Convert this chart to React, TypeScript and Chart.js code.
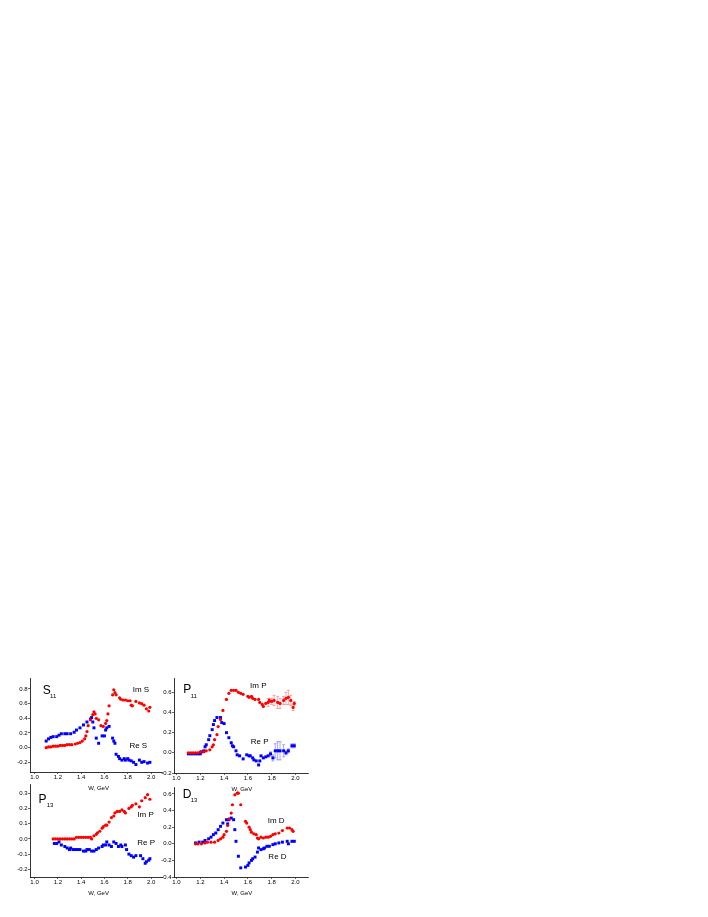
import { useEffect, useRef } from 'react';
import { Chart, registerables } from 'chart.js';

Chart.register(...registerables);

const FONT = '"Liberation Sans", Arial, sans-serif';
Chart.defaults.font.family = FONT;

// shared x ticks (W, GeV)
const wTicks = [1.0, 1.2, 1.4, 1.6, 1.8, 2.0];

// y ticks per panel
const s11Ticks = [-0.2, 0.0, 0.2, 0.4, 0.6, 0.8];
const p11Ticks = [-0.2, 0.0, 0.2, 0.4, 0.6];
const p13Ticks = [-0.2, -0.1, 0.0, 0.1, 0.2, 0.3];
const d13Ticks = [-0.4, -0.2, 0.0, 0.2, 0.4, 0.6];

// S11
const s11ImW = [1.10, 1.12, 1.14, 1.16, 1.18, 1.20, 1.22, 1.24, 1.26, 1.28, 1.30, 1.32, 1.35, 1.37, 1.39, 1.41, 1.43, 1.44, 1.45, 1.46, 1.48, 1.50, 1.51, 1.52, 1.53, 1.55, 1.57, 1.59, 1.61, 1.62, 1.63, 1.64, 1.67, 1.68, 1.69, 1.70, 1.73, 1.74, 1.76, 1.78, 1.80, 1.82, 1.83, 1.84, 1.87, 1.90, 1.92, 1.94, 1.96, 1.98, 1.99];
const s11Im = [0.00, 0.01, 0.01, 0.02, 0.02, 0.02, 0.03, 0.03, 0.03, 0.04, 0.04, 0.04, 0.05, 0.06, 0.07, 0.09, 0.12, 0.16, 0.22, 0.30, 0.38, 0.45, 0.49, 0.46, 0.40, 0.38, 0.30, 0.29, 0.33, 0.37, 0.46, 0.57, 0.72, 0.79, 0.75, 0.72, 0.68, 0.66, 0.65, 0.65, 0.64, 0.64, 0.58, 0.57, 0.63, 0.61, 0.60, 0.58, 0.53, 0.50, 0.55];
const s11ReW = [1.10, 1.12, 1.14, 1.16, 1.19, 1.21, 1.23, 1.26, 1.28, 1.31, 1.34, 1.36, 1.39, 1.42, 1.45, 1.48, 1.49, 1.50, 1.51, 1.53, 1.55, 1.58, 1.60, 1.61, 1.62, 1.64, 1.67, 1.68, 1.69, 1.70, 1.72, 1.73, 1.75, 1.77, 1.78, 1.80, 1.81, 1.83, 1.85, 1.87, 1.90, 1.92, 1.94, 1.97, 1.99];
const s11Re = [0.09, 0.12, 0.14, 0.15, 0.15, 0.17, 0.19, 0.19, 0.19, 0.19, 0.21, 0.24, 0.27, 0.31, 0.35, 0.39, 0.41, 0.35, 0.27, 0.13, 0.06, 0.16, 0.16, 0.24, 0.27, 0.29, 0.13, 0.09, 0.06, -0.09, -0.12, -0.15, -0.17, -0.15, -0.17, -0.15, -0.17, -0.18, -0.20, -0.23, -0.17, -0.20, -0.19, -0.21, -0.20];

// P11
const p11ImW = [1.10, 1.12, 1.14, 1.16, 1.18, 1.20, 1.23, 1.25, 1.28, 1.30, 1.31, 1.32, 1.34, 1.35, 1.37, 1.39, 1.42, 1.44, 1.46, 1.48, 1.50, 1.52, 1.54, 1.56, 1.60, 1.61, 1.63, 1.64, 1.66, 1.69, 1.70, 1.72, 1.73, 1.75, 1.77, 1.78, 1.80, 1.82, 1.85, 1.87, 1.90, 1.92, 1.94, 1.96, 1.98, 1.99];
const p11Im = [0.00, 0.00, 0.00, 0.00, 0.00, 0.01, 0.01, 0.02, 0.03, 0.06, 0.08, 0.13, 0.18, 0.26, 0.33, 0.42, 0.53, 0.59, 0.62, 0.62, 0.62, 0.60, 0.59, 0.58, 0.56, 0.55, 0.56, 0.54, 0.53, 0.53, 0.50, 0.48, 0.46, 0.49, 0.50, 0.52, 0.51, 0.52, 0.50, 0.49, 0.52, 0.54, 0.55, 0.52, 0.45, 0.49];
const p11ImErr = [0, 0, 0, 0, 0, 0, 0, 0, 0, 0, 0, 0, 0, 0, 0, 0, 0, 0, 0, 0, 0, 0, 0, 0, 0, 0, 0, 0, 0, 0, 0, 0, 0, 0, 0.04, 0.02, 0.03, 0.05, 0.06, 0.05, 0.04, 0.06, 0.07, 0.05, 0.03, 0.02];
const p11ReW = [1.10, 1.12, 1.14, 1.16, 1.18, 1.20, 1.21, 1.23, 1.24, 1.25, 1.27, 1.28, 1.30, 1.31, 1.32, 1.34, 1.37, 1.38, 1.40, 1.42, 1.44, 1.46, 1.47, 1.48, 1.50, 1.51, 1.53, 1.56, 1.59, 1.61, 1.62, 1.64, 1.65, 1.67, 1.69, 1.70, 1.71, 1.73, 1.75, 1.77, 1.79, 1.81, 1.83, 1.85, 1.87, 1.90, 1.92, 1.94, 1.97, 1.99];
const p11Re = [-0.01, -0.01, -0.01, -0.01, -0.01, -0.01, 0.01, 0.02, 0.06, 0.08, 0.13, 0.17, 0.23, 0.28, 0.32, 0.35, 0.35, 0.30, 0.29, 0.20, 0.15, 0.10, 0.07, 0.06, 0.02, -0.02, -0.03, -0.06, -0.02, -0.03, -0.03, -0.05, -0.07, -0.08, -0.12, -0.08, -0.03, -0.05, -0.04, -0.03, -0.01, -0.05, 0.02, 0.02, 0.02, 0.02, 0.00, 0.02, 0.07, 0.07];
const p11ReErr = [0, 0, 0, 0, 0, 0, 0, 0, 0, 0, 0, 0, 0, 0, 0, 0, 0, 0, 0, 0, 0, 0, 0, 0, 0, 0, 0, 0, 0, 0, 0, 0, 0, 0, 0, 0, 0, 0, 0, 0, 0.02, 0.03, 0.07, 0.09, 0.09, 0.06, 0.02, 0.02, 0.02, 0.02];

// P13
const p13ImW = [1.16, 1.18, 1.20, 1.22, 1.24, 1.26, 1.28, 1.30, 1.32, 1.34, 1.36, 1.38, 1.40, 1.42, 1.44, 1.46, 1.48, 1.49, 1.51, 1.53, 1.54, 1.56, 1.58, 1.59, 1.61, 1.62, 1.64, 1.66, 1.68, 1.69, 1.71, 1.73, 1.75, 1.77, 1.78, 1.81, 1.83, 1.84, 1.87, 1.90, 1.92, 1.95, 1.97, 1.99];
const p13Im = [0.00, 0.00, 0.00, 0.00, 0.00, 0.00, 0.00, 0.00, 0.00, 0.00, 0.01, 0.01, 0.01, 0.01, 0.01, 0.01, 0.01, 0.00, 0.02, 0.03, 0.04, 0.05, 0.07, 0.08, 0.09, 0.09, 0.11, 0.14, 0.15, 0.17, 0.18, 0.18, 0.19, 0.18, 0.17, 0.20, 0.21, 0.22, 0.23, 0.21, 0.25, 0.27, 0.29, 0.26];
const p13ReW = [1.17, 1.19, 1.21, 1.23, 1.26, 1.28, 1.30, 1.31, 1.33, 1.35, 1.37, 1.39, 1.42, 1.44, 1.45, 1.47, 1.49, 1.51, 1.53, 1.55, 1.58, 1.59, 1.61, 1.62, 1.64, 1.66, 1.68, 1.70, 1.72, 1.74, 1.75, 1.78, 1.79, 1.81, 1.83, 1.85, 1.87, 1.91, 1.93, 1.95, 1.96, 1.98, 1.99];
const p13Re = [-0.03, -0.03, -0.02, -0.04, -0.05, -0.06, -0.07, -0.06, -0.07, -0.07, -0.07, -0.07, -0.08, -0.08, -0.07, -0.07, -0.08, -0.08, -0.07, -0.06, -0.05, -0.04, -0.04, -0.02, -0.04, -0.05, -0.02, -0.03, -0.05, -0.04, -0.05, -0.04, -0.07, -0.10, -0.11, -0.12, -0.11, -0.11, -0.13, -0.16, -0.15, -0.14, -0.13];

// D13
const d13ImW = [1.16, 1.18, 1.21, 1.24, 1.26, 1.29, 1.32, 1.35, 1.37, 1.39, 1.40, 1.42, 1.43, 1.44, 1.46, 1.47, 1.49, 1.51, 1.52, 1.54, 1.58, 1.59, 1.61, 1.62, 1.63, 1.65, 1.67, 1.68, 1.69, 1.71, 1.73, 1.75, 1.77, 1.79, 1.81, 1.83, 1.86, 1.89, 1.93, 1.95, 1.97, 1.98];
const d13Im = [0.00, 0.00, 0.00, 0.01, 0.02, 0.02, 0.02, 0.04, 0.06, 0.08, 0.11, 0.15, 0.22, 0.30, 0.37, 0.47, 0.59, 0.61, 0.61, 0.47, 0.27, 0.25, 0.20, 0.17, 0.14, 0.12, 0.11, 0.07, 0.06, 0.08, 0.07, 0.08, 0.08, 0.09, 0.11, 0.12, 0.13, 0.16, 0.19, 0.19, 0.17, 0.15];
const d13ReW = [1.16, 1.19, 1.22, 1.24, 1.27, 1.29, 1.31, 1.33, 1.35, 1.37, 1.39, 1.42, 1.43, 1.44, 1.46, 1.48, 1.49, 1.50, 1.52, 1.54, 1.58, 1.60, 1.61, 1.63, 1.64, 1.66, 1.68, 1.69, 1.71, 1.73, 1.74, 1.76, 1.78, 1.81, 1.83, 1.86, 1.89, 1.93, 1.94, 1.97, 1.99];
const d13Re = [0.01, 0.02, 0.02, 0.04, 0.06, 0.08, 0.11, 0.13, 0.17, 0.21, 0.25, 0.29, 0.24, 0.29, 0.31, 0.29, 0.17, 0.03, -0.15, -0.29, -0.28, -0.26, -0.23, -0.20, -0.18, -0.16, -0.10, -0.05, -0.07, -0.06, -0.05, -0.03, -0.03, -0.01, 0.00, 0.01, 0.02, 0.03, 0.00, 0.03, 0.03];

interface Series { w: number[]; v: number[]; err?: number[] }
interface Note { text: string; x: number; y: number; size: number }
interface PanelProps {
  box: number[];   // canvas left, top, width, height (page px)
  area: number[];  // plot area left, top, right, bottom (page px)
  xRange: number[];
  yRange: number[];
  yTicks: number[];
  im: Series;
  re: Series;
  notes: Note[];
}

const RED = '#ff0000';
const BLUE = '#0000ff';

const errorBars = {
  id: 'errorBars',
  beforeDatasetsDraw(chart: any) {
    const { ctx } = chart;
    const xs = chart.scales.x;
    const ys = chart.scales.y;
    chart.data.datasets.forEach((ds: any) => {
      if (!ds.errors) return;
      ctx.save();
      ctx.strokeStyle = ds.errorColor;
      ctx.lineWidth = 0.7;
      ds.data.forEach((pt: any, i: number) => {
        const e = ds.errors[i];
        if (!e) return;
        const px = xs.getPixelForValue(pt.x);
        const top = ys.getPixelForValue(pt.y + e);
        const bot = ys.getPixelForValue(pt.y - e);
        ctx.beginPath();
        ctx.moveTo(px, top);
        ctx.lineTo(px, bot);
        ctx.moveTo(px - 1.5, top);
        ctx.lineTo(px + 1.5, top);
        ctx.moveTo(px - 1.5, bot);
        ctx.lineTo(px + 1.5, bot);
        ctx.stroke();
      });
      ctx.restore();
    });
  },
};

function Panel({ box, area, xRange, yRange, yTicks, im, re, notes }: PanelProps) {
  const canvasRef = useRef<HTMLCanvasElement>(null);

  useEffect(() => {
    if (!canvasRef.current) return;
    const [cl, ct, cw, ch] = box;
    const [al, at, ar, ab] = area;

    const textPlugin = {
      id: 'panelText',
      afterDatasetsDraw(chart: any) {
        const { ctx, chartArea } = chart;
        const xs = chart.scales.x;
        const ys = chart.scales.y;
        ctx.save();
        ctx.fillStyle = '#000';
        ctx.textBaseline = 'middle';
        ctx.textAlign = 'left';
        notes.forEach(n => {
          ctx.font = `${n.size}px ${FONT}`;
          ctx.fillText(n.text, xs.getPixelForValue(n.x), ys.getPixelForValue(n.y));
        });
        ctx.textAlign = 'center';
        ctx.font = `6px ${FONT}`;
        ctx.fillText('W, GeV', xs.getPixelForValue(1.55), chartArea.bottom + 16);
        ctx.restore();
      },
    };

    const axisGrid = { drawOnChartArea: false, drawTicks: true, tickLength: 2, color: '#000', lineWidth: 0.6 };
    const axisBorder = { color: '#000', width: 0.8 };
    const tickFont = { size: 6, family: FONT };

    const chart = new Chart(canvasRef.current, {
      type: 'scatter',
      data: {
        datasets: [
          {
            data: im.w.map((w, i) => ({ x: w, y: im.v[i] })),
            pointStyle: 'circle',
            pointRadius: 1.6,
            pointBackgroundColor: RED,
            pointBorderWidth: 0,
            errors: im.err,
            errorColor: 'rgba(255, 90, 90, 0.75)',
          } as any,
          {
            data: re.w.map((w, i) => ({ x: w, y: re.v[i] })),
            pointStyle: 'rect',
            pointRadius: 2.1,
            pointBackgroundColor: BLUE,
            pointBorderWidth: 0,
            errors: re.err,
            errorColor: 'rgba(90, 90, 255, 0.75)',
          } as any,
        ],
      },
      options: {
        animation: false,
        responsive: false,
        events: [],
        layout: { padding: { left: 0, top: at - ct, right: cl + cw - ar, bottom: 0 } },
        plugins: { legend: { display: false }, tooltip: { enabled: false } },
        scales: {
          x: {
            type: 'linear',
            min: xRange[0],
            max: xRange[1],
            afterFit: (s: any) => { s.height = ct + ch - ab; },
            afterBuildTicks: (s: any) => { s.ticks = wTicks.map(v => ({ value: v })); },
            grid: axisGrid,
            border: axisBorder,
            ticks: {
              font: tickFont,
              color: '#000',
              padding: 0,
              maxRotation: 0,
              autoSkip: false,
              callback: (v: any) => Number(v).toFixed(1),
            },
          },
          y: {
            type: 'linear',
            min: yRange[0],
            max: yRange[1],
            afterFit: (s: any) => { s.width = al - cl; },
            afterBuildTicks: (s: any) => { s.ticks = yTicks.map(v => ({ value: v })); },
            grid: axisGrid,
            border: axisBorder,
            ticks: {
              font: tickFont,
              color: '#000',
              padding: 0.5,
              autoSkip: false,
              callback: (v: any) => Number(v).toFixed(1),
            },
          },
        },
      },
      plugins: [errorBars, textPlugin],
    } as any);

    return () => chart.destroy();
  }, []);

  return (
    <canvas
      ref={canvasRef}
      width={box[2]}
      height={box[3]}
      style={{ position: 'absolute', left: box[0], top: box[1], width: box[2], height: box[3] }}
    />
  );
}

export default function App() {
  return (
    <div style={{ position: 'absolute', left: 0, top: 0, width: 708, height: 917, background: '#fff' }}>
      <Panel
        box={[0, 668, 170, 132]}
        area={[30, 678, 162, 772]}
        xRange={[0.961, 2.094]}
        yRange={[-0.332, 0.95]}
        yTicks={s11Ticks}
        im={{ w: s11ImW, v: s11Im }}
        re={{ w: s11ReW, v: s11Re }}
        notes={[
          { text: 'S', x: 1.07, y: 0.773, size: 12 },
          { text: '11', x: 1.133, y: 0.695, size: 6 },
          { text: 'Im S', x: 1.843, y: 0.793, size: 8 },
          { text: 'Re S', x: 1.814, y: 0.02, size: 8 },
        ]}
      />
      <Panel
        box={[156, 668, 157, 132]}
        area={[174, 678, 308, 773]}
        xRange={[0.979, 2.105]}
        yRange={[-0.2, 0.742]}
        yTicks={p11Ticks}
        im={{ w: p11ImW, v: p11Im, err: p11ImErr }}
        re={{ w: p11ReW, v: p11Re, err: p11ReErr }}
        notes={[
          { text: 'P', x: 1.057, y: 0.631, size: 12 },
          { text: '11', x: 1.119, y: 0.563, size: 6 },
          { text: 'Im P', x: 1.618, y: 0.66, size: 8 },
          { text: 'Re P', x: 1.624, y: 0.107, size: 8 },
        ]}
      />
      <Panel
        box={[0, 776, 170, 124]}
        area={[30, 784, 162, 877]}
        xRange={[0.961, 2.094]}
        yRange={[-0.25, 0.36]}
        yTicks={p13Ticks}
        im={{ w: p13ImW, v: p13Im }}
        re={{ w: p13ReW, v: p13Re }}
        notes={[
          { text: 'P', x: 1.033, y: 0.259, size: 12 },
          { text: '13', x: 1.105, y: 0.221, size: 6 },
          { text: 'Im P', x: 1.882, y: 0.161, size: 8 },
          { text: 'Re P', x: 1.882, y: -0.027, size: 8 },
        ]}
      />
      <Panel
        box={[156, 776, 157, 124]}
        area={[174, 787, 308, 877]}
        xRange={[0.979, 2.105]}
        yRange={[-0.4, 0.684]}
        yTicks={d13Ticks}
        im={{ w: d13ImW, v: d13Im }}
        re={{ w: d13ReW, v: d13Re }}
        notes={[
          { text: 'D', x: 1.052, y: 0.588, size: 12 },
          { text: '13', x: 1.119, y: 0.522, size: 6 },
          { text: 'Im D', x: 1.766, y: 0.274, size: 8 },
          { text: 'Re D', x: 1.772, y: -0.153, size: 8 },
        ]}
      />
    </div>
  );
}
